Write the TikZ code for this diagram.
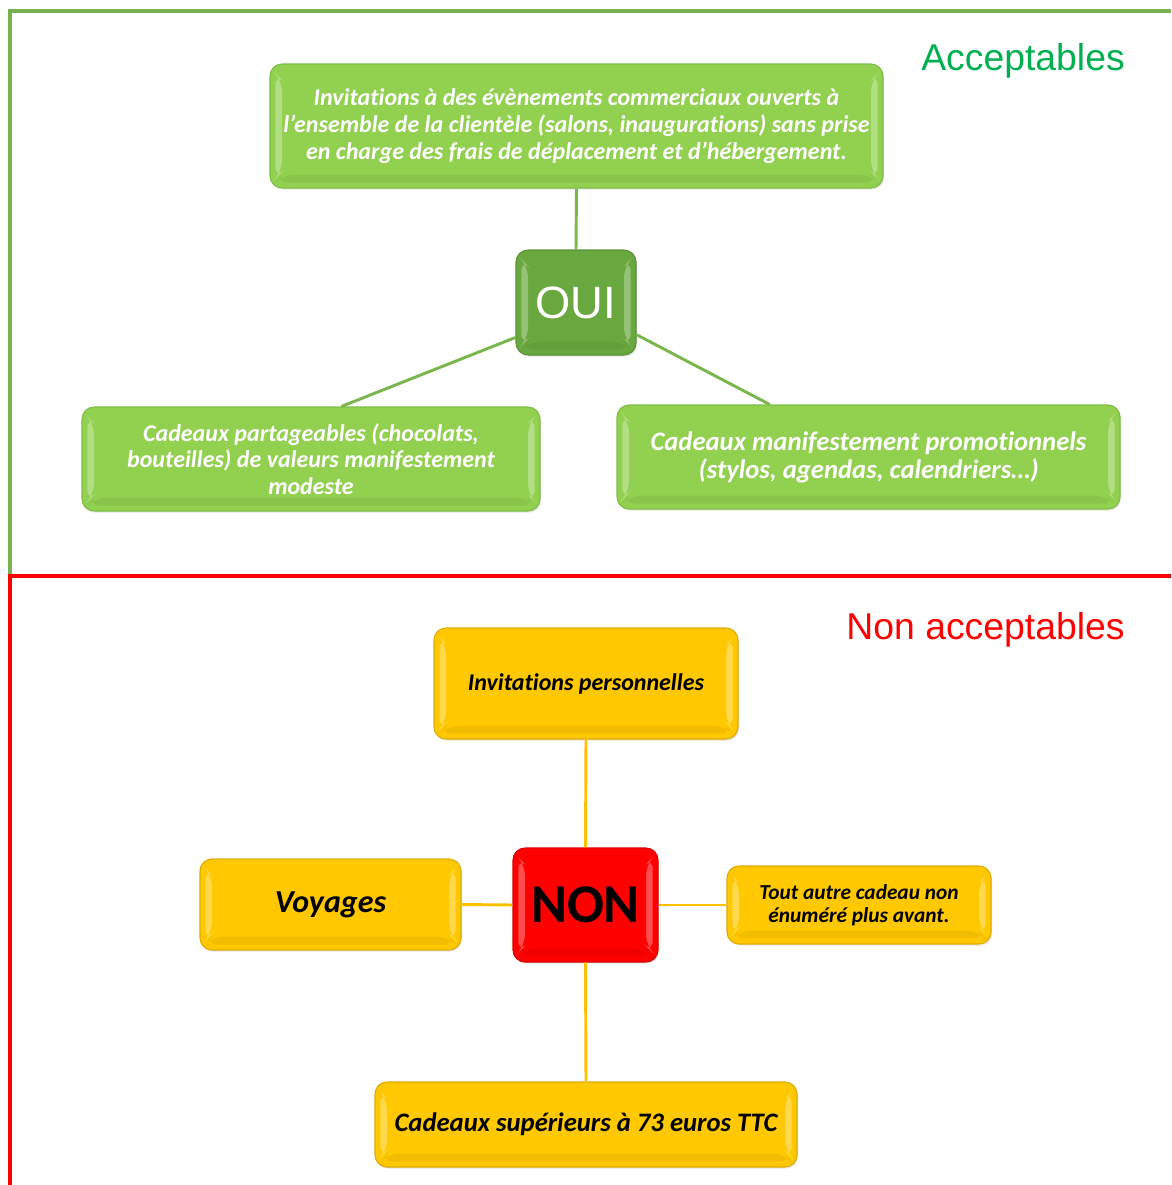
\documentclass[tikz,border=0pt]{standalone}
\usepackage{fontspec}
\setmainfont{Carlito}[Ligatures={CommonOff,TeX}]
\newfontfamily\arialfont{Liberation Sans}
\usetikzlibrary{shadows}
\definecolor{frameGreen}{HTML}{77B150}
\definecolor{frameRed}{HTML}{FF0000}
\definecolor{titleGreen}{HTML}{00B050}
\definecolor{boxGreen}{HTML}{92D050}
\definecolor{boxGreenEdge}{HTML}{7DBE45}
\definecolor{ouiGreen}{HTML}{69A83F}
\definecolor{ouiEdge}{HTML}{5A9236}
\definecolor{boxYellow}{HTML}{FFC800}
\definecolor{boxYellowEdge}{HTML}{E0AA00}
\definecolor{lineYellow}{HTML}{FFC000}
\definecolor{lineGreen}{HTML}{79B74C}
\tikzset{
  bevel/.style={path picture={
    \fill[white,opacity=0.3] ([xshift=4pt,yshift=-7pt]path picture bounding box.north west) -- ([xshift=9pt,yshift=-12pt]path picture bounding box.north west) -- ([xshift=9pt,yshift=12pt]path picture bounding box.south west) -- ([xshift=4pt,yshift=7pt]path picture bounding box.south west) -- cycle;
    \fill[white,opacity=0.3] ([xshift=-4pt,yshift=-7pt]path picture bounding box.north east) -- ([xshift=-9pt,yshift=-12pt]path picture bounding box.north east) -- ([xshift=-9pt,yshift=12pt]path picture bounding box.south east) -- ([xshift=-4pt,yshift=7pt]path picture bounding box.south east) -- cycle;
    \fill[black,opacity=0.05] ([xshift=9pt,yshift=10pt]path picture bounding box.south west) -- ([xshift=-9pt,yshift=10pt]path picture bounding box.south east) -- ([xshift=-4pt,yshift=4pt]path picture bounding box.south east) -- ([xshift=4pt,yshift=4pt]path picture bounding box.south west) -- cycle;
  }},
  basebox/.style={rounded corners=9pt, line width=0.8pt, align=center, inner sep=2pt,
    drop shadow={opacity=0.2, shadow xshift=0.8pt, shadow yshift=-1.2pt}, bevel},
  greenbox/.style={basebox, fill=boxGreen, draw=boxGreenEdge, text=white,
    font=\bfseries\itshape\fontsize{18}{20}\selectfont},
  yellowbox/.style={basebox, fill=boxYellow, draw=boxYellowEdge, text=black,
    font=\bfseries\itshape\fontsize{18}{20}\selectfont},
  ouibox/.style={basebox, fill=ouiGreen, draw=ouiEdge, text=white,
    font=\arialfont\fontsize{34}{40}\selectfont},
  nonbox/.style={basebox, fill=frameRed, draw=red!85!black, text=black,
    font=\bfseries\fontsize{41}{46}\selectfont},
  gline/.style={draw=lineGreen, line width=2.2pt},
  yline/.style={draw=lineYellow, line width=2.2pt},
  framestyle/.style={line width=2.7pt},
  title/.style={font=\arialfont\fontsize{28}{32}\selectfont, inner sep=0pt},
}
\begin{document}
\begin{tikzpicture}[x=0.75pt, y=-0.75pt]
\useasboundingbox (0,0) rectangle (1171,1185);
% frames
\coordinate (gA) at (10,576);
\coordinate (gB) at (10,11);
\coordinate (gC) at (1171,11);
\coordinate (rA) at (10,1185);
\coordinate (rB) at (10,576);
\coordinate (rC) at (1171,576);
\draw[frameGreen, framestyle] (gA) -- (gB) -- (gC);
\draw[frameRed, framestyle] (rA) -- (rB) -- (rC);
% titles
\node[title, text=titleGreen] (acc) at (1023,61) {Acceptables};
\node[title, text=frameRed] (nacc) at (985.5,630) {Non acceptables};
% green part
\node[greenbox, minimum width=459.75pt, minimum height=93pt] (top) at (576.5,126)
  {Invitations à des évènements commerciaux ouverts à\\l’ensemble de la clientèle (salons, inaugurations) sans prise\\en charge des frais de déplacement et d’hébergement.};
\node[ouibox, minimum width=90pt, minimum height=78.75pt] (oui) at (576,302.5) {OUI};
\node[greenbox, minimum width=343.5pt, minimum height=78pt] (left) at (311,459)
  {Cadeaux partageables (chocolats,\\bouteilles) de valeurs manifestement\\modeste};
\node[greenbox, minimum width=377.25pt, minimum height=78pt, font=\bfseries\itshape\fontsize{20}{21}\selectfont] (right) at (868.5,457)
  {Cadeaux manifestement promotionnels\\(stylos, agendas, calendriers…)};
% yellow part
\node[yellowbox, minimum width=228pt, minimum height=83.25pt] (inv) at (586,683.5) {Invitations personnelles};
\node[nonbox, minimum width=108.75pt, minimum height=85.5pt] (non) at (585.5,905) {NON};
\node[yellowbox, minimum width=195.75pt, minimum height=68.25pt, font=\bfseries\itshape\fontsize{24}{26}\selectfont] (voy) at (330.5,904.5) {Voyages};
\node[yellowbox, minimum width=198pt, minimum height=58.5pt, font=\bfseries\itshape\fontsize{16}{17}\selectfont] (tout) at (859,905) {Tout autre cadeau non\\énuméré plus avant.};
\node[yellowbox, minimum width=316.5pt, minimum height=63.75pt, font=\bfseries\itshape\fontsize{20}{22}\selectfont] (sup) at (586,1124.5) {Cadeaux supérieurs à 73 euros TTC};
% connectors
\draw[gline] (top.south) -- (oui.north);
\draw[gline] (oui.210) -- (left.60);
\draw[gline] (oui.-28) -- (right.152);
\draw[yline] (inv.south) -- (non.north);
\draw[yline] (non.south) -- (sup.north);
\draw[yline] (voy.east) -- (non.west);
\draw[yline] (non.east) -- (tout.west);
\end{tikzpicture}
\end{document}
